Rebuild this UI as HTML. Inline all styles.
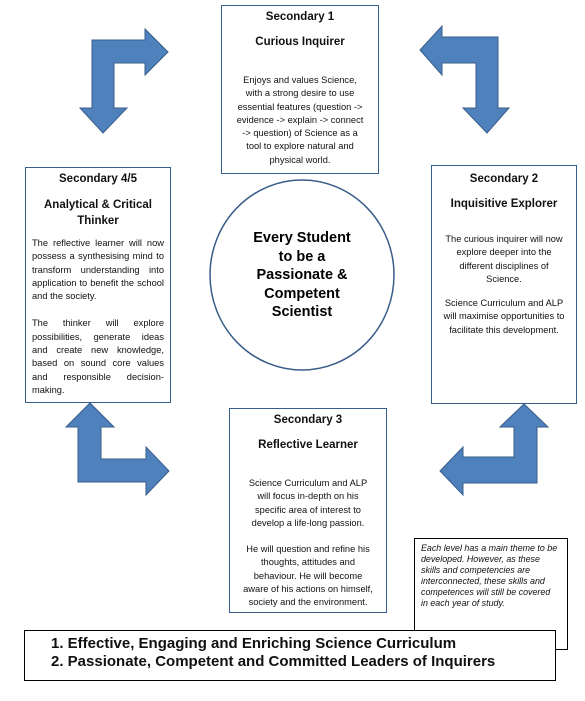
<!DOCTYPE html>
<html><head><style>
body{margin:0;width:585px;height:701px;background:#fff;position:relative;font-family:"Liberation Sans",Arial,sans-serif;overflow:hidden}
.b{position:absolute;border:1px solid #385d8a;box-sizing:border-box;background:#fff;text-align:center;font-size:9.3px;line-height:13.3px;color:#111}
.h{font-weight:bold;font-size:11.5px;line-height:14px;margin-top:4px}
.h2{font-weight:bold;font-size:11.5px;line-height:14px;margin-top:11px}
p{margin:0}
</style></head><body>
<svg width="585" height="701" style="position:absolute;left:0;top:0">
<g fill="#4f81bd" stroke="#385d8a" stroke-width="1">
<polygon points="92,108 80,108 103,133 127,108 114,108 114,63 145,63 145,75 168,52 145,29 145,40 92,40"/>
<polygon points="498,108 509,108 487,133 463,108 476,108 476,63 442,63 442,75 420,50 442,26 442,37 498,37"/>
<polygon points="78,427 66,427 90,403 114,427 101,427 101,459 146,459 146,447 169,471 146,495 146,482 78,482"/>
<polygon points="537,427 548,427 524,404 500,427 514,427 514,457 463,457 463,447 440,471 463,495 463,483 537,483"/>
</g>
<ellipse cx="302" cy="275" rx="92" ry="95" fill="#fff" stroke="#385d8a" stroke-width="1.5"/>
</svg>
<div class="b" style="left:221px;top:5px;width:158px;height:169px">
<div class="h">Secondary 1</div><div class="h2">Curious Inquirer</div>
<p style="margin-top:25px">Enjoys and values Science,<br>with a strong desire to use<br>essential features (question -&gt;<br>evidence -&gt; explain -&gt; connect<br>-&gt; question) of Science as a<br>tool to explore natural and<br>physical world.</p></div>
<div class="b" style="left:25px;top:167px;width:146px;height:236px">
<div class="h">Secondary 4/5</div><div class="h2" style="line-height:16px">Analytical &amp; Critical<br>Thinker</div>
<p style="margin-top:8px;text-align:justify;padding:0 6px">The reflective learner will now possess a synthesising mind to transform understanding into application to benefit the school and the society.</p>
<p style="margin-top:14px;text-align:justify;padding:0 6px">The thinker will explore possibilities, generate ideas and create new knowledge, based on sound core values and responsible decision-making.</p></div>
<div class="b" style="left:431px;top:165px;width:146px;height:239px">
<div class="h" style="margin-top:6px">Secondary 2</div><div class="h2">Inquisitive Explorer</div>
<p style="margin-top:22px">The curious inquirer will now<br>explore deeper into the<br>different disciplines of<br>Science.</p>
<p style="margin-top:11px">Science Curriculum and ALP<br>will maximise opportunities to<br>facilitate this development.</p></div>
<div style="position:absolute;left:210px;top:229px;width:184px;text-align:center;font-weight:bold;font-size:14.5px;line-height:18.5px">Every Student<br>to be a<br>Passionate &amp;<br>Competent<br>Scientist</div>
<div class="b" style="left:229px;top:408px;width:158px;height:205px">
<div class="h">Secondary 3</div><div class="h2">Reflective Learner</div>
<p style="margin-top:25px">Science Curriculum and ALP<br>will focus in-depth on his<br>specific area of interest to<br>develop a life-long passion.</p>
<p style="margin-top:13px">He will question and refine his<br>thoughts, attitudes and<br>behaviour. He will become<br>aware of his actions on himself,<br>society and the environment.</p></div>
<div class="b" style="left:414px;top:538px;width:154px;height:112px;border-color:#000;text-align:left;font-style:italic;font-size:8.9px;line-height:11px;padding:4px 6px;white-space:nowrap">Each level has a main theme to be<br>developed. However, as these<br>skills and competencies are<br>interconnected, these skills and<br>competences will still be covered<br>in each year of study.</div>
<div class="b" style="left:24px;top:630px;width:532px;height:51px;border-color:#000;text-align:left;font-weight:bold;font-size:15px;line-height:18px;padding:4px 0 0 26px">1. Effective, Engaging and Enriching Science Curriculum<br>2. Passionate, Competent and Committed Leaders of Inquirers</div>
</body></html>
